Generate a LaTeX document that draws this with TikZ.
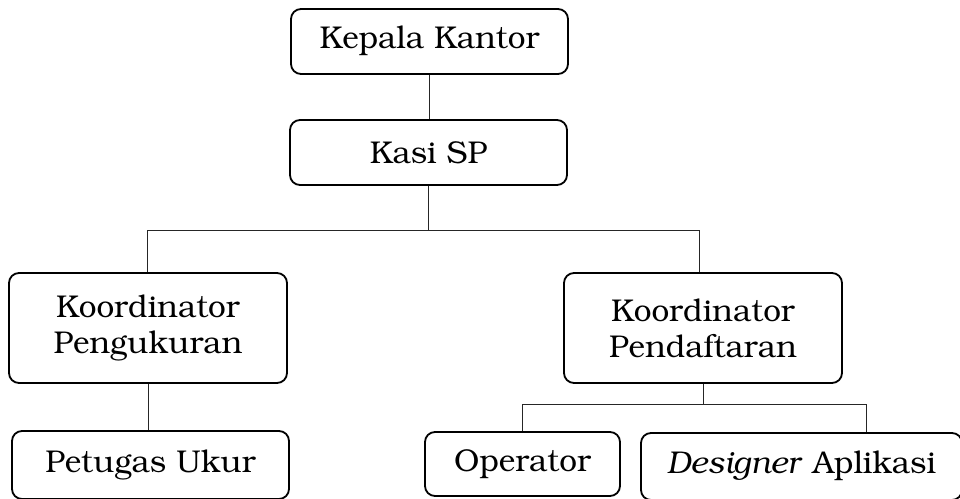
\documentclass[tikz,border=0pt]{standalone}
\usepackage[T1]{fontenc}
\usepackage{bookman}
\begin{document}
\begin{tikzpicture}[x=1pt,y=-1pt,
  box/.style={draw, line width=1.8pt, rounded corners=10pt, align=center,
    inner sep=0pt, font=\fontsize{31.5}{36}\selectfont},
  link/.style={line width=1pt, draw=black!85}]
\useasboundingbox (0,0) rectangle (960,498);
\begin{scope}
\clip (0,0) rectangle (960,498);
% boxes of the organisation chart
\node[box, minimum width=277pt, minimum height=65pt] (kepala) at (429.5,41.5) {Kepala Kantor};
\node[box, minimum width=277pt, minimum height=65pt] (kasi) at (428.5,152.5) {Kasi SP};
\node[box, minimum width=278pt, minimum height=110pt] (koorpeng) at (148,328) {Koordinator\\Pengukuran};
\node[box, minimum width=278pt, minimum height=110pt] (koorpend) at (703,328) {Koordinator\\Pendaftaran};
\node[box, minimum width=277pt, minimum height=68pt] (petugas) at (150.5,465) {Petugas Ukur};
\node[box, minimum width=195pt, minimum height=64pt] (operator) at (522.5,464) {Operator};
\node[box, minimum width=321pt, minimum height=67pt] (designer) at (801.5,466.5) {\textit{Designer} Aplikasi};
\end{scope}
% bus lines
\coordinate (busA) at (147,230);
\coordinate (busB) at (699,230);
\coordinate (busC) at (522,404);
\coordinate (busD) at (866,404);
\draw[link] (kepala.south) -- (kepala.south |- kasi.north);
\draw[link] (kasi.south) -- (kasi.south |- busA);
\draw[link] (busA |- koorpeng.north) -- (busA) -- (busB) -- (busB |- koorpend.north);
\draw[link] (koorpeng.south) -- (koorpeng.south |- petugas.north);
\draw[link] (koorpend.south) -- (koorpend.south |- busC);
\draw[link] (busC |- operator.north) -- (busC) -- (busD) -- (busD |- designer.north);
\end{tikzpicture}
\end{document}
